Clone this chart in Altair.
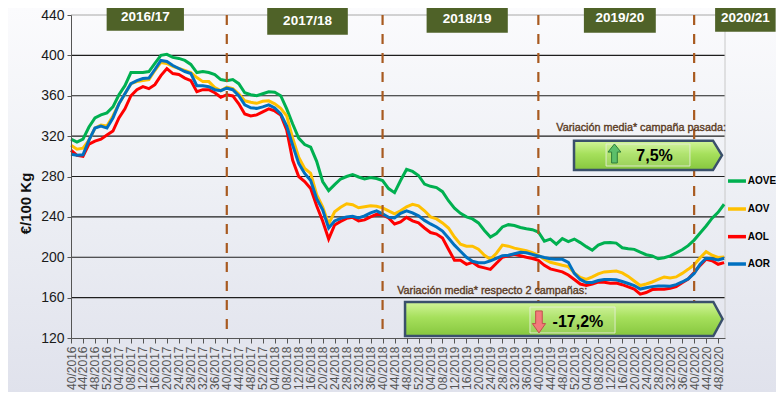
import altair as alt
import pandas as pd

# ---------------- data ----------------
# week index: 0 = week 40/2016, one value every 2 weeks up to week 50/2020
week_index = list(range(0, 219, 2))

aove = [317, 314, 317, 329, 338, 341, 343, 349, 361, 370,
        383, 383, 383, 384, 392, 400, 401, 398, 397, 395,
        391, 383, 384, 383, 381, 376, 375, 376, 372, 363,
        361, 360, 362, 364, 363.5, 360, 347, 332, 318, 311.7,
        309, 295, 275, 266, 272, 277.5, 280, 282, 279.5, 277.5,
        279, 278, 276, 268, 264, 276, 287, 285, 281, 272.5,
        270.3, 269, 265, 256, 248.7, 243.5, 240, 238, 234, 226.5,
        220, 223.5, 230, 232.3, 231.5, 229.5, 228.3, 227.3, 225, 216,
        218, 213, 218.5, 215.5, 218, 214.5, 210.5, 207, 212, 214.3,
        214.5, 214, 209.4, 208.5, 207.8, 205, 202.5, 201.3, 198.5, 199.5,
        201.4, 204.3, 207.4, 211.5, 217, 224, 231, 238.7, 244.5, 252.5]

aov = [311, 307, 308, 316, 328, 331, 330, 340, 352, 362,
       372, 374, 375, 376, 385, 393, 392, 389, 387, 385,
       383, 378, 374, 374, 368, 365, 368.5, 367, 362, 355,
       353.5, 352.5, 354.5, 355, 352, 347.6, 340, 318, 299, 288,
       283, 262, 250, 233, 245, 249.5, 253, 252, 249, 250,
       251, 250.5, 249, 246, 243, 246, 250, 252.5, 251, 246,
       240, 238, 234, 229, 220, 213, 211, 211, 208, 202,
       198, 204, 212, 211, 209, 207.8, 206.5, 204.5, 202, 198,
       195, 193.5, 192, 190.7, 184.5, 180, 178, 180.5, 183.5, 185.5,
       186, 186.3, 184.5, 181, 176.5, 172, 173.5, 175.5, 178, 180.5,
       179.5, 180.5, 184, 188, 192.5, 199.5, 205.5, 202, 199.8, 200.3]

aol = [306, 301, 300, 312, 315, 317, 321, 325, 338, 347,
       360, 366, 369, 367, 371, 380, 387, 382, 381, 377.5,
       375, 364, 366, 366, 363, 358.5, 361, 359.8, 352, 342,
       340, 341, 344, 347, 345, 341, 326, 296, 280, 275,
       268, 251, 236, 218, 232, 235.5, 238.5, 239.5, 236, 237,
       240, 242.5, 242, 239, 233, 235, 239.5, 236, 234, 229,
       224.5, 223, 219, 208, 197, 197, 193, 195, 191, 189.5,
       188, 194, 200, 201.5, 203, 201.5, 200, 198.7, 197, 192,
       188.5, 187, 185.5, 182.4, 178, 173.5, 172, 173.5, 175.5, 175.3,
       174.3, 174.4, 172.8, 170.7, 168.5, 163.5, 165, 168, 168.2, 168.3,
       169.2, 171, 174.8, 178.4, 185, 192, 198, 196.5, 193, 194.7]

aor = [302, 301, 301.5, 316, 328, 330, 328, 338, 352, 362,
       372, 375, 377, 377.5, 386, 395, 394, 390, 387, 384,
       382, 370, 370, 369, 366, 365, 367.5, 366, 360, 351,
       348, 347.5, 349, 351, 348, 342, 330, 311, 293, 283,
       276, 258, 247, 229, 236, 238.5, 240, 240.5, 239, 241,
       244, 246, 243, 239.5, 239, 243.5, 246, 244, 241, 236.5,
       233, 230, 226, 219, 212, 206, 200, 196, 194.5, 194.5,
       196.5, 199, 201.5, 202, 203.5, 205, 204.5, 202.8, 201.3, 199.8,
       198.6, 197.9, 197.9, 195, 184, 178, 175, 175, 177, 178,
       178, 177.7, 176, 174, 172, 168.5, 169.7, 170.9, 171.5, 171.5,
       171.2, 172.8, 175.5, 178.5, 184, 193, 199, 198.5, 197.3, 199]

series_names = ["AOVE", "AOV", "AOL", "AOR"]
series_values = [aove, aov, aol, aor]
series_colors = ["#00b050", "#ffc000", "#ff0000", "#0070c0"]

tick_index = list(range(0, 217, 4))
tick_labels = [
    "40/2016", "44/2016", "48/2016", "52/2016",
    "04/2017", "08/2017", "12/2017", "16/2017", "20/2017", "24/2017", "28/2017",
    "32/2017", "36/2017", "40/2017", "44/2017", "48/2017", "52/2017",
    "04/2018", "08/2018", "12/2018", "16/2018", "20/2018", "24/2018", "28/2018",
    "32/2018", "36/2018", "40/2018", "44/2018", "48/2018", "52/2018",
    "04/2019", "08/2019", "12/2019", "16/2019", "20/2019", "24/2019", "28/2019",
    "32/2019", "36/2019", "40/2019", "44/2019", "48/2019", "52/2019",
    "04/2020", "08/2020", "12/2020", "16/2020", "20/2020", "24/2020", "28/2020",
    "32/2020", "36/2020", "40/2020", "44/2020", "48/2020",
]
y_ticks = [120, 160, 200, 240, 280, 320, 360, 400, 440]

season_labels = ["2016/17", "2017/18", "2018/19", "2019/20", "2020/21"]
season_bounds = [52, 104, 156, 208]          # week 40 of each year

note_texts = ["Variación media* campaña pasada:", "Variación media* respecto 2 campañas:"]
note_values = ["7,5%", "-17,2%"]

# ---------------- layout of the annotations (week-index / price units) ----------------
season_x1 = [11.9, 65.5, 118.7, 171.2, 215.0]
season_x2 = [37.7, 92.4, 145.8, 195.2, 235.2]
season_top = [450.9, 447.6, 449.6, 452.2, 450.9]
season_bot = [424.4, 420.5, 422.5, 422.5, 423.5]

note_text_x = [190.3, 140.6]
note_text_y = [325.0, 163.8]
box_x = [[167.9, 214.3, 217.3], [111.5, 214.4, 217.5]]
box_top = [[315.5, 315.5, 301.0], [155.7, 155.7, 138.8]]
box_bot = [[286.4, 286.4, 301.0], [122.0, 122.0, 138.8]]
inner_x1 = [178.6, 153.2]
inner_x2 = [206.6, 181.6]
inner_top = [312.2, 150.7]
inner_bot = [290.4, 125.0]
pct_x = [194.8, 169.2]
pct_y = [300.3, 136.3]
arrow_x = [181.4, 156.2]
arrow_y = [302.8, 135.9]

legend_line_x1 = 219.3
legend_line_x2 = 225.3
legend_text_x = 225.9
legend_y = [275.5, 247.8, 220.4, 193.3]

# ---------------- tables ----------------
lines_df = pd.DataFrame(
    [{"series": n, "week": w, "price": v}
     for n, vals in zip(series_names, series_values)
     for w, v in zip(week_index, vals)]
)
season_df = pd.DataFrame({"label": season_labels, "x1": season_x1, "x2": season_x2,
                          "top": season_top, "bot": season_bot})
season_df["xm"] = (season_df.x1 + season_df.x2) / 2
season_df["ym"] = (season_df.top + season_df.bot) / 2
bounds_df = pd.DataFrame({"week": season_bounds})
grid_df = pd.DataFrame({"price": y_ticks[1:-1]})
top_df = pd.DataFrame({"price": [y_ticks[-1]]})
box_df = pd.DataFrame([{"box": i, "week": x, "price": t, "bot": b}
                       for i in range(2)
                       for x, t, b in zip(box_x[i], box_top[i], box_bot[i])])
inner_df = pd.DataFrame({"week": inner_x1, "x2": inner_x2, "price": inner_top, "bot": inner_bot})
notes_df = pd.DataFrame({"text": note_texts, "week": note_text_x, "price": note_text_y})
pct_df = pd.DataFrame({"text": note_values, "week": pct_x, "price": pct_y})
up_df = pd.DataFrame({"week": [arrow_x[0]], "price": [arrow_y[0]]})
down_df = pd.DataFrame({"week": [arrow_x[1]], "price": [arrow_y[1]]})
leg_df = pd.DataFrame({"series": series_names, "price": legend_y,
                       "week": [legend_line_x1] * 4, "x2": [legend_line_x2] * 4,
                       "xt": [legend_text_x] * 4})
season_df = season_df.rename(columns={"x1": "week", "top": "price"})

FONT = "Liberation Sans, Arial, sans-serif"
W, H = 654, 323
XMAX = 218.3

xs = alt.Scale(domain=[0, XMAX], nice=False, zero=False)
ys = alt.Scale(domain=[120, 440], nice=False, zero=False)
cs = alt.Scale(domain=series_names, range=series_colors)

label_expr = "[" + ",".join("'" + t + "'" for t in tick_labels) + "][round(datum.value / 4)]"

x_axis = alt.Axis(values=tick_index, labelExpr=label_expr, labelAngle=270, title=None,
                  grid=False, labelOverlap=False, labelFlush=False, labelBound=False,
                  zindex=1)
y_axis = alt.Axis(values=y_ticks, title="€/100 Kg", titleX=-38, titleY=188, grid=False,
                  labelFlush=False, labelOverlap=False, zindex=1)

XQ = alt.X("week:Q", scale=xs, axis=x_axis)
YQ = alt.Y("price:Q", scale=ys, axis=y_axis)

bg_grad = alt.LinearGradient(gradient="linear", x1=0, x2=0, y1=0, y2=1, stops=[
    alt.GradientStop(offset=0, color="#fbfbfd"),
    alt.GradientStop(offset=0.45, color="#eef0f5"),
    alt.GradientStop(offset=1, color="#e0e2ec")])
box_grad = alt.LinearGradient(gradient="linear", x1=0, x2=0, y1=0, y2=1, stops=[
    alt.GradientStop(offset=0, color="#d2f59a"),
    alt.GradientStop(offset=0.45, color="#a6e05c"),
    alt.GradientStop(offset=1, color="#86c63e")])

background = alt.Chart(alt.Data(values=[{"k": 1}])).mark_rect(fill=bg_grad).encode(
    x=alt.value(-63), x2=alt.value(W + 51), y=alt.value(-7), y2=alt.value(H + 54))

grid = alt.Chart(grid_df).mark_rule(color="#1e1e1e", strokeWidth=1.1).encode(y=YQ)
top_line = alt.Chart(top_df).mark_rule(color="#a8a8a8", strokeWidth=1).encode(y=YQ)
right_border = alt.Chart(alt.Data(values=[{"week": XMAX}])).mark_rule(
    color="#c8c8c8", strokeWidth=1).encode(x=XQ)

line_layers = []
for n in series_names:
    line_layers.append(
        alt.Chart(lines_df[lines_df.series == n]).mark_line(strokeWidth=3).encode(
            x=XQ, y=YQ, color=alt.Color("series:N", scale=cs, legend=None),
        )
    )

bounds = alt.Chart(bounds_df).mark_rule(color="#a85a20", strokeWidth=2.2, strokeDash=[10, 9]).encode(x=XQ)

notes = alt.Chart(notes_df).mark_text(font=FONT, fontSize=10.8, color="#5a3a1e",
                                      stroke="#5a3a1e", strokeWidth=0.35,
                                      baseline="alphabetic").encode(x=XQ, y=YQ, text="text:N")

boxes = alt.Chart(box_df).mark_area(fill=box_grad, stroke="#3a506b", strokeWidth=2.5,
                                    interpolate="linear").encode(
    x=XQ, y=YQ, y2="bot:Q", detail="box:N")

inner = alt.Chart(inner_df).mark_rect(fill="#ffffff", fillOpacity=0.12, stroke="#e4ecd6",
                                      strokeWidth=1, strokeOpacity=0.9).encode(
    x=XQ, x2="x2:Q", y=YQ, y2="bot:Q")

UP = "M-0.3,1 L-0.3,-0.15 L-0.68,-0.15 L0,-1 L0.68,-0.15 L0.3,-0.15 L0.3,1 Z"
DOWN = "M-0.3,-1 L-0.3,0.15 L-0.6,0.15 L0,1 L0.6,0.15 L0.3,0.15 L0.3,-1 Z"
up_arrow = alt.Chart(up_df).mark_point(shape=UP, filled=True, fill="#5cbf6a", stroke="#2f7d3a",
                                       strokeWidth=1, opacity=1, size=361).encode(x=XQ, y=YQ)
down_arrow = alt.Chart(down_df).mark_point(shape=DOWN, filled=True, fill="#f27b7b", stroke="#c0504d",
                                           strokeWidth=1, opacity=1, size=484).encode(x=XQ, y=YQ)

pcts = alt.Chart(pct_df).mark_text(font=FONT, fontSize=16, fontWeight="bold", color="#000000",
                                   baseline="middle").encode(x=XQ, y=YQ, text="text:N")

season_boxes = alt.Chart(season_df).mark_rect(color="#4f6228").encode(
    x=XQ, x2="x2:Q", y=YQ, y2="bot:Q")
season_text = alt.Chart(season_df).mark_text(font=FONT, fontSize=13.5, fontWeight="bold",
                                             color="#ffffff", baseline="middle").encode(
    x=alt.X("xm:Q", scale=xs, axis=x_axis), y=alt.Y("ym:Q", scale=ys, axis=y_axis),
    text="label:N")

leg_lines = alt.Chart(leg_df).mark_rule(strokeWidth=3.5).encode(
    x=XQ, x2="x2:Q", y=YQ, color=alt.Color("series:N", scale=cs, legend=None))
leg_text = alt.Chart(leg_df).mark_text(font=FONT, fontSize=10, fontWeight="bold",
                                       color="#000000", align="left", baseline="middle").encode(
    x=alt.X("xt:Q", scale=xs, axis=x_axis), y=YQ, text="series:N")

chart = alt.layer(
    background, grid, top_line, right_border, *line_layers, bounds,
    notes, boxes, inner, up_arrow, down_arrow, pcts, season_boxes, season_text,
    leg_lines, leg_text,
).properties(
    width=W, height=H, autosize=alt.AutoSizeParams(type="none"),
    padding={"left": 63, "top": 7, "right": 51, "bottom": 54},
).configure_view(
    strokeWidth=0
).configure_axis(
    labelOverlap=False, labelFlush=False, domainColor="#555555", tickColor="#555555",
).configure_axisX(
    labelFont=FONT, labelFontSize=12, labelColor="#555555", tickSize=5, labelPadding=3,
    labelOverlap=False, labelBound=False,
).configure_axisY(
    labelFont=FONT, labelFontSize=14, labelColor="#1a1a1a", tickSize=4, labelPadding=3,
    titleFont=FONT, titleFontSize=15, titleFontWeight="bold", titleColor="#111111",
)

chart.save("out.html", embed_options={"renderer": "svg", "actions": False})
